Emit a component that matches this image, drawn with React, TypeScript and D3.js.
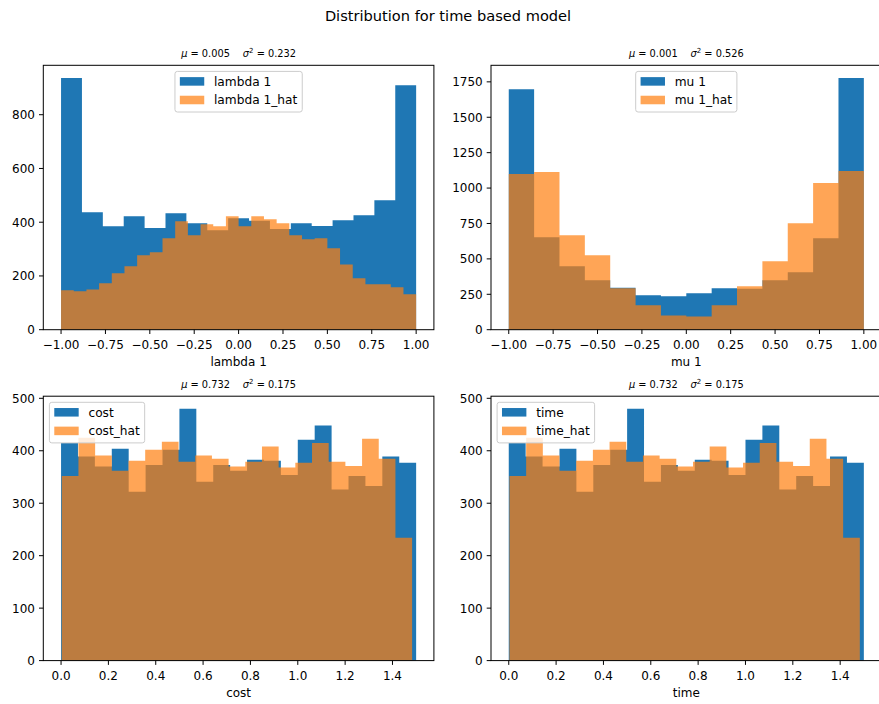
import React from 'react';
import * as d3 from 'd3';

// Histogram counts per bin (equal-width bins over each series' range)
const LAMBDA_COUNTS = [937, 437, 385, 422, 378, 433, 396, 370, 415, 405, 375, 396, 386, 407, 426, 482, 910];
const LAMBDA_HAT_COUNTS = [147, 143, 150, 173, 210, 236, 277, 288, 340, 404, 351, 392, 385, 422, 385, 422, 411, 396, 351, 337, 340, 303, 243, 191, 169, 169, 158, 132];
const MU_COUNTS = [1698, 653, 448, 349, 297, 243, 236, 257, 292, 290, 349, 406, 646, 1778];
const MU_HAT_COUNTS = [1099, 1113, 667, 526, 292, 172, 101, 94, 172, 307, 483, 752, 1035, 1120];
const COST_COUNTS = [415, 389, 370, 404, 322, 373, 402, 480, 341, 373, 362, 383, 381, 354, 421, 448, 326, 352, 333, 389, 377];
const COST_HAT_COUNTS = [352, 425, 391, 362, 381, 402, 417, 379, 391, 385, 370, 379, 408, 368, 377, 415, 379, 371, 423, 385, 234];
const TIME_COUNTS = [415, 389, 370, 404, 322, 373, 402, 480, 341, 373, 362, 383, 381, 354, 421, 448, 326, 352, 333, 389, 377];
const TIME_HAT_COUNTS = [352, 425, 391, 362, 381, 402, 417, 379, 391, 385, 370, 379, 408, 368, 377, 415, 379, 371, 423, 385, 234];

// Value ranges covered by the bins
const UNIT_RANGE: [number, number] = [-1, 1];
const COST_RANGE: [number, number] = [0, 1.5];
const COST_HAT_RANGE: [number, number] = [0.003, 1.483];

// Tick values
const SIGNED_TICKS = [-1, -0.75, -0.5, -0.25, 0, 0.25, 0.5, 0.75, 1];
const POSITIVE_TICKS = [0, 0.2, 0.4, 0.6, 0.8, 1.0, 1.2, 1.4];
const LAMBDA_Y_TICKS = [0, 200, 400, 600, 800];
const MU_Y_TICKS = [0, 250, 500, 750, 1000, 1250, 1500, 1750];
const COST_Y_TICKS = [0, 100, 200, 300, 400, 500];

// Summary statistics shown above each panel: [mean, variance]
const LAMBDA_STATS = ['0.005', '0.232'];
const MU_STATS = ['0.001', '0.526'];
const COST_STATS = ['0.732', '0.175'];
const TIME_STATS = ['0.732', '0.175'];

const FONT = '"DejaVu Sans", "Liberation Sans", sans-serif';
const BLUE = '#1f77b4';
const ORANGE = '#ff7f0e';
const TICK_FS = 12;
const LEGEND_FS = 12.2;

let measureCtx: CanvasRenderingContext2D | null = null;
function textWidth(s: string, size: number): number {
  if (!measureCtx) {
    const c = document.createElement('canvas');
    measureCtx = c.getContext('2d');
  }
  if (!measureCtx) return s.length * size * 0.6;
  measureCtx.font = `${size}px "DejaVu Sans"`;
  return measureCtx.measureText(s).width;
}

type PanelProps = {
  left: number;
  top: number;
  width: number;
  height: number;
  counts: number[];
  hatCounts: number[];
  range: [number, number];
  hatRange: [number, number];
  xTicks: number[];
  xFormat: (v: number) => string;
  yTicks: number[];
  label: string;
  stats: string[];
  legendLoc: 'center' | 'left';
};

function binEdges(range: [number, number], n: number): number[] {
  return d3.range(n + 1).map((i) => range[0] + ((range[1] - range[0]) * i) / n);
}

// All bars of one histogram as a single path, so neighbouring bars join without seams
function barsPath(
  counts: number[],
  edges: number[],
  x: d3.ScaleLinear<number, number>,
  y: d3.ScaleLinear<number, number>
): string {
  const p = d3.path();
  const y0 = y(0);
  counts.forEach((c, i) => {
    const x0 = x(edges[i]);
    const x1 = x(edges[i + 1]);
    p.rect(x0, y(c), x1 - x0, y0 - y(c));
  });
  return p.toString();
}

function Panel(p: PanelProps) {
  const lo = Math.min(p.range[0], p.hatRange[0]);
  const hi = Math.max(p.range[1], p.hatRange[1]);
  const pad = (hi - lo) * 0.05;
  const x = d3.scaleLinear().domain([lo - pad, hi + pad]).range([p.left, p.left + p.width]);
  const yMax = (d3.max([...p.counts, ...p.hatCounts]) as number) * 1.05;
  const y = d3.scaleLinear().domain([0, yMax]).range([p.top + p.height, p.top]);
  const bottom = p.top + p.height;

  const edges = binEdges(p.range, p.counts.length);
  const hatEdges = binEdges(p.hatRange, p.hatCounts.length);

  const hatLabel = `${p.label}_hat`;
  const tw = Math.max(textWidth(p.label, LEGEND_FS), textWidth(hatLabel, LEGEND_FS));
  const lgW = 0.4 * LEGEND_FS * 2 + 2 * LEGEND_FS + 0.8 * LEGEND_FS + tw;
  const lgH = 40.6;
  const lgLeft = p.legendLoc === 'center' ? p.left + p.width / 2 - lgW / 2 : p.left + 0.5 * LEGEND_FS;
  const lgTop = p.top + 0.5 * LEGEND_FS;
  const handleX = lgLeft + 0.4 * LEGEND_FS;
  const handleW = 2 * LEGEND_FS;
  const handleH = 0.7 * LEGEND_FS;
  const textX = handleX + handleW + 0.8 * LEGEND_FS;
  const rows = [
    { label: p.label, color: BLUE, opacity: 1, cy: lgTop + 10 },
    { label: hatLabel, color: ORANGE, opacity: 0.7, cy: lgTop + 28.6 },
  ];

  return (
    <g>
      <path d={barsPath(p.counts, edges, x, y)} fill={BLUE} />
      <path d={barsPath(p.hatCounts, hatEdges, x, y)} fill={ORANGE} fillOpacity={0.7} />
      {/* spines */}
      <rect x={p.left} y={p.top} width={p.width} height={p.height} fill="none" stroke="#000" strokeWidth={1} />
      {/* x ticks */}
      {p.xTicks.map((t) => (
        <g key={`xt${t}`}>
          <line x1={x(t)} x2={x(t)} y1={bottom} y2={bottom + 4.3} stroke="#000" strokeWidth={1} />
          <text x={x(t)} y={bottom + 19.3} textAnchor="middle" fontSize={TICK_FS} fontFamily={FONT} fill="#000">
            {p.xFormat(t).replace('-', '\u2212')}
          </text>
        </g>
      ))}
      {/* y ticks */}
      {p.yTicks.map((t) => (
        <g key={`yt${t}`}>
          <line x1={p.left - 4.3} x2={p.left} y1={y(t)} y2={y(t)} stroke="#000" strokeWidth={1} />
          <text x={p.left - 8.3} y={y(t) + 4.4} textAnchor="end" fontSize={TICK_FS} fontFamily={FONT} fill="#000">
            {t}
          </text>
        </g>
      ))}
      {/* axis label */}
      <text x={p.left + p.width / 2} y={bottom + 36} textAnchor="middle" fontSize={TICK_FS} fontFamily={FONT} fill="#000">
        {p.label}
      </text>
      {/* panel title with statistics */}
      <text x={p.left + p.width / 2} y={p.top - 8} textAnchor="middle" fontSize={9.8} fontFamily={FONT} fill="#000">
        <tspan fontStyle="italic">μ</tspan>
        <tspan>{` = ${p.stats[0]}\u2003 `}</tspan>
        <tspan fontStyle="italic">σ</tspan>
        <tspan fontSize={7} dy={-4}>2</tspan>
        <tspan dy={4}>{` = ${p.stats[1]}`}</tspan>
      </text>
      {/* legend */}
      <rect
        x={lgLeft}
        y={lgTop}
        width={lgW}
        height={lgH}
        rx={2.4}
        fill="#fff"
        fillOpacity={0.8}
        stroke="#cccccc"
        strokeWidth={1}
      />
      {rows.map((r) => (
        <g key={r.label}>
          <rect x={handleX} y={r.cy - handleH / 2} width={handleW} height={handleH} fill={r.color} fillOpacity={r.opacity} />
          <text x={textX} y={r.cy + 4.3} fontSize={LEGEND_FS} fontFamily={FONT} fill="#000">
            {r.label}
          </text>
        </g>
      ))}
    </g>
  );
}

const fmt2 = d3.format('.2f');
const fmt1 = d3.format('.1f');

export default function App() {
  const W = 879;
  const H = 704;
  const colLeft = [43.3, 491];
  const rowTop = [65.3, 396.2];
  const pw = 390.6;
  const ph = 264.4;
  return (
    <svg
      width={W}
      height={H}
      viewBox={`0 0 ${W} ${H}`}
      style={{ position: 'absolute', left: 0, top: 0, background: '#fff' }}
    >
      <rect x={0} y={0} width={W} height={H} fill="#fff" />
      <text x={448} y={20.7} textAnchor="middle" fontSize={14.6} fontFamily={FONT} fill="#000">
        Distribution for time based model
      </text>
      <Panel
        left={colLeft[0]} top={rowTop[0]} width={pw} height={ph}
        counts={LAMBDA_COUNTS} hatCounts={LAMBDA_HAT_COUNTS}
        range={UNIT_RANGE} hatRange={UNIT_RANGE}
        xTicks={SIGNED_TICKS} xFormat={fmt2} yTicks={LAMBDA_Y_TICKS}
        label="lambda 1" stats={LAMBDA_STATS} legendLoc="center"
      />
      <Panel
        left={colLeft[1]} top={rowTop[0]} width={pw} height={ph}
        counts={MU_COUNTS} hatCounts={MU_HAT_COUNTS}
        range={UNIT_RANGE} hatRange={UNIT_RANGE}
        xTicks={SIGNED_TICKS} xFormat={fmt2} yTicks={MU_Y_TICKS}
        label="mu 1" stats={MU_STATS} legendLoc="center"
      />
      <Panel
        left={colLeft[0]} top={rowTop[1]} width={pw} height={ph}
        counts={COST_COUNTS} hatCounts={COST_HAT_COUNTS}
        range={COST_RANGE} hatRange={COST_HAT_RANGE}
        xTicks={POSITIVE_TICKS} xFormat={fmt1} yTicks={COST_Y_TICKS}
        label="cost" stats={COST_STATS} legendLoc="left"
      />
      <Panel
        left={colLeft[1]} top={rowTop[1]} width={pw} height={ph}
        counts={TIME_COUNTS} hatCounts={TIME_HAT_COUNTS}
        range={COST_RANGE} hatRange={COST_HAT_RANGE}
        xTicks={POSITIVE_TICKS} xFormat={fmt1} yTicks={COST_Y_TICKS}
        label="time" stats={TIME_STATS} legendLoc="left"
      />
    </svg>
  );
}
